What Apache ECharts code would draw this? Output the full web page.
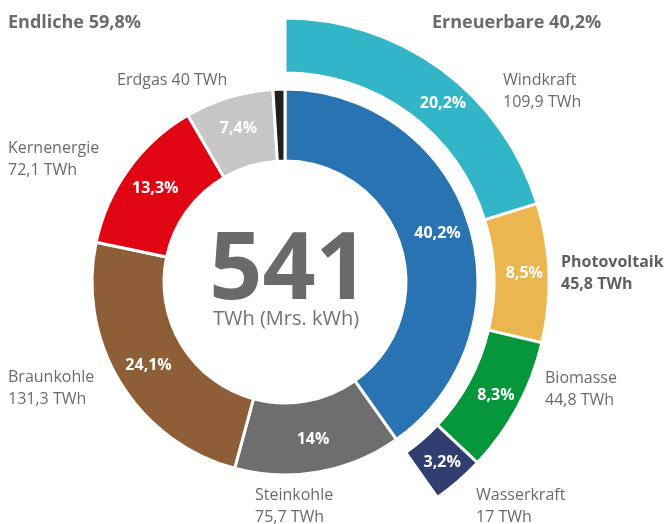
<!DOCTYPE html>
<html><head><meta charset="utf-8">
<script src="https://cdn.jsdelivr.net/npm/echarts@6/dist/echarts.min.js"></script>
<style>html,body{margin:0;padding:0;background:#fff}#c{width:670px;height:524px}</style>
</head><body><div id="c"></div>
<script>
// ---- data ----
const totalTWh = 541;
const innerNames = ['Erneuerbare', 'Steinkohle', 'Braunkohle', 'Kernenergie', 'Erdgas', 'Sonstige'];
const innerShares = [40.2, 14, 24.1, 13.3, 7.4, 1.0];
const innerTWh = [217.5, 75.7, 131.3, 72.1, 40, null];
const outerNames = ['Windkraft', 'Photovoltaik', 'Biomasse', 'Wasserkraft'];
const outerShares = [20.2, 8.5, 8.3, 3.2];
const outerTWh = [109.9, 45.8, 44.8, 17];
const groupTitles = ['Endliche', 'Erneuerbare'];

// ---- styles ----
const innerColors = ['#2a73b2', '#6e6e6e', '#8e5e36', '#e10514', '#c6c6c6', '#1e1e1e'];
const outerColors = ['#33b5c8', '#ebb650', '#06963c', '#303f70'];
const textGray = '#6b6b6b';
const FONT = '"Open Sans", "Noto Sans", sans-serif';
// outside label layout: [x, y of first line, align, bold, singleLine]
const labelLayout = {
  'Windkraft': [503, 80, 'left', false, false],
  'Photovoltaik': [561, 262, 'left', true, false],
  'Biomasse': [545, 378, 'left', false, false],
  'Wasserkraft': [476, 495, 'left', false, false],
  'Steinkohle': [255, 495, 'left', false, false],
  'Braunkohle': [8, 377, 'left', false, false],
  'Kernenergie': [8, 148, 'left', false, false],
  'Erdgas': [117, 80, 'left', false, true]
};
// nudges for inside percent labels
const pctOffsets = { 'Windkraft': [16, 14] };

const de = v => String(v).replace('.', ',');
const sum = a => Math.round(a.reduce((s, v) => s + v, 0) * 10) / 10;
const endlicheShare = sum(innerShares.slice(1));
const erneuerbarShare = sum(outerShares);

const innerData = innerNames.map((n, i) => ({
  name: n, value: innerShares[i],
  itemStyle: { color: innerColors[i] },
  label: { show: n !== 'Sonstige' }
}));
const outerData = outerNames.map((n, i) => ({
  name: n, value: outerShares[i],
  itemStyle: { color: outerColors[i] },
  label: pctOffsets[n] ? { offset: pctOffsets[n] } : {}
}));
outerData.push({
  name: 'rest', value: endlicheShare,
  itemStyle: { color: 'rgba(0,0,0,0)', borderWidth: 0 },
  label: { show: false }
});

const graphics = [];
function addText(x, y, text, opts) {
  graphics.push({
    type: 'text', x: x, y: y, silent: true,
    style: Object.assign({
      text: text, fill: textGray, font: '16px ' + FONT,
      align: 'left', verticalAlign: 'middle'
    }, opts || {})
  });
}
function addOutside(name, twh) {
  const L = labelLayout[name];
  if (!L) return;
  const font = (L[3] ? 'bold 16px ' : '16px ') + FONT;
  const col = L[3] ? '#5f5f5f' : textGray;
  if (L[4]) {
    addText(L[0], L[1], name + ' ' + de(twh) + ' TWh', { font: font, fill: col, align: L[2] });
  } else {
    addText(L[0], L[1], name, { font: font, fill: col, align: L[2] });
    addText(L[0], L[1] + 22, de(twh) + ' TWh', { font: font, fill: col, align: L[2] });
  }
}
innerNames.forEach((n, i) => { if (innerTWh[i] != null) addOutside(n, innerTWh[i]); });
outerNames.forEach((n, i) => addOutside(n, outerTWh[i]));
addText(8, 23, groupTitles[0] + ' ' + de(endlicheShare) + '%', { font: 'bold 18px ' + FONT });
addText(432, 23, groupTitles[1] + ' ' + de(erneuerbarShare) + '%', { font: 'bold 18px ' + FONT });
addText(289, 272, String(totalTWh), { font: 'bold 93px ' + FONT, align: 'center', fill: '#6a6a6a' });
addText(286, 319, 'TWh (Mrs. kWh)', { font: '20px ' + FONT, align: 'center', fill: '#737373' });

const pctLabel = {
  show: true, position: 'inside', color: '#fff',
  fontFamily: FONT, fontWeight: 'bold', fontSize: 16,
  formatter: p => de(p.value) + '%'
};

const chart = echarts.init(document.getElementById('c'), null, { renderer: 'canvas' });
chart.setOption({
  animation: false,
  backgroundColor: '#fff',
  series: [
    {
      type: 'pie', center: [285, 282], radius: [121, 193],
      startAngle: 90, clockwise: true, avoidLabelOverlap: false,
      silent: true, label: pctLabel, labelLine: { show: false },
      itemStyle: { borderColor: '#fff', borderWidth: 3 },
      emphasis: { disabled: true },
      data: innerData
    },
    {
      type: 'pie', center: [285, 282], radius: [209, 264],
      startAngle: 90, clockwise: true, avoidLabelOverlap: false,
      silent: true, label: pctLabel, labelLine: { show: false },
      itemStyle: { borderColor: '#fff', borderWidth: 3 },
      emphasis: { disabled: true },
      data: outerData
    }
  ],
  graphic: graphics
});
</script></body></html>
